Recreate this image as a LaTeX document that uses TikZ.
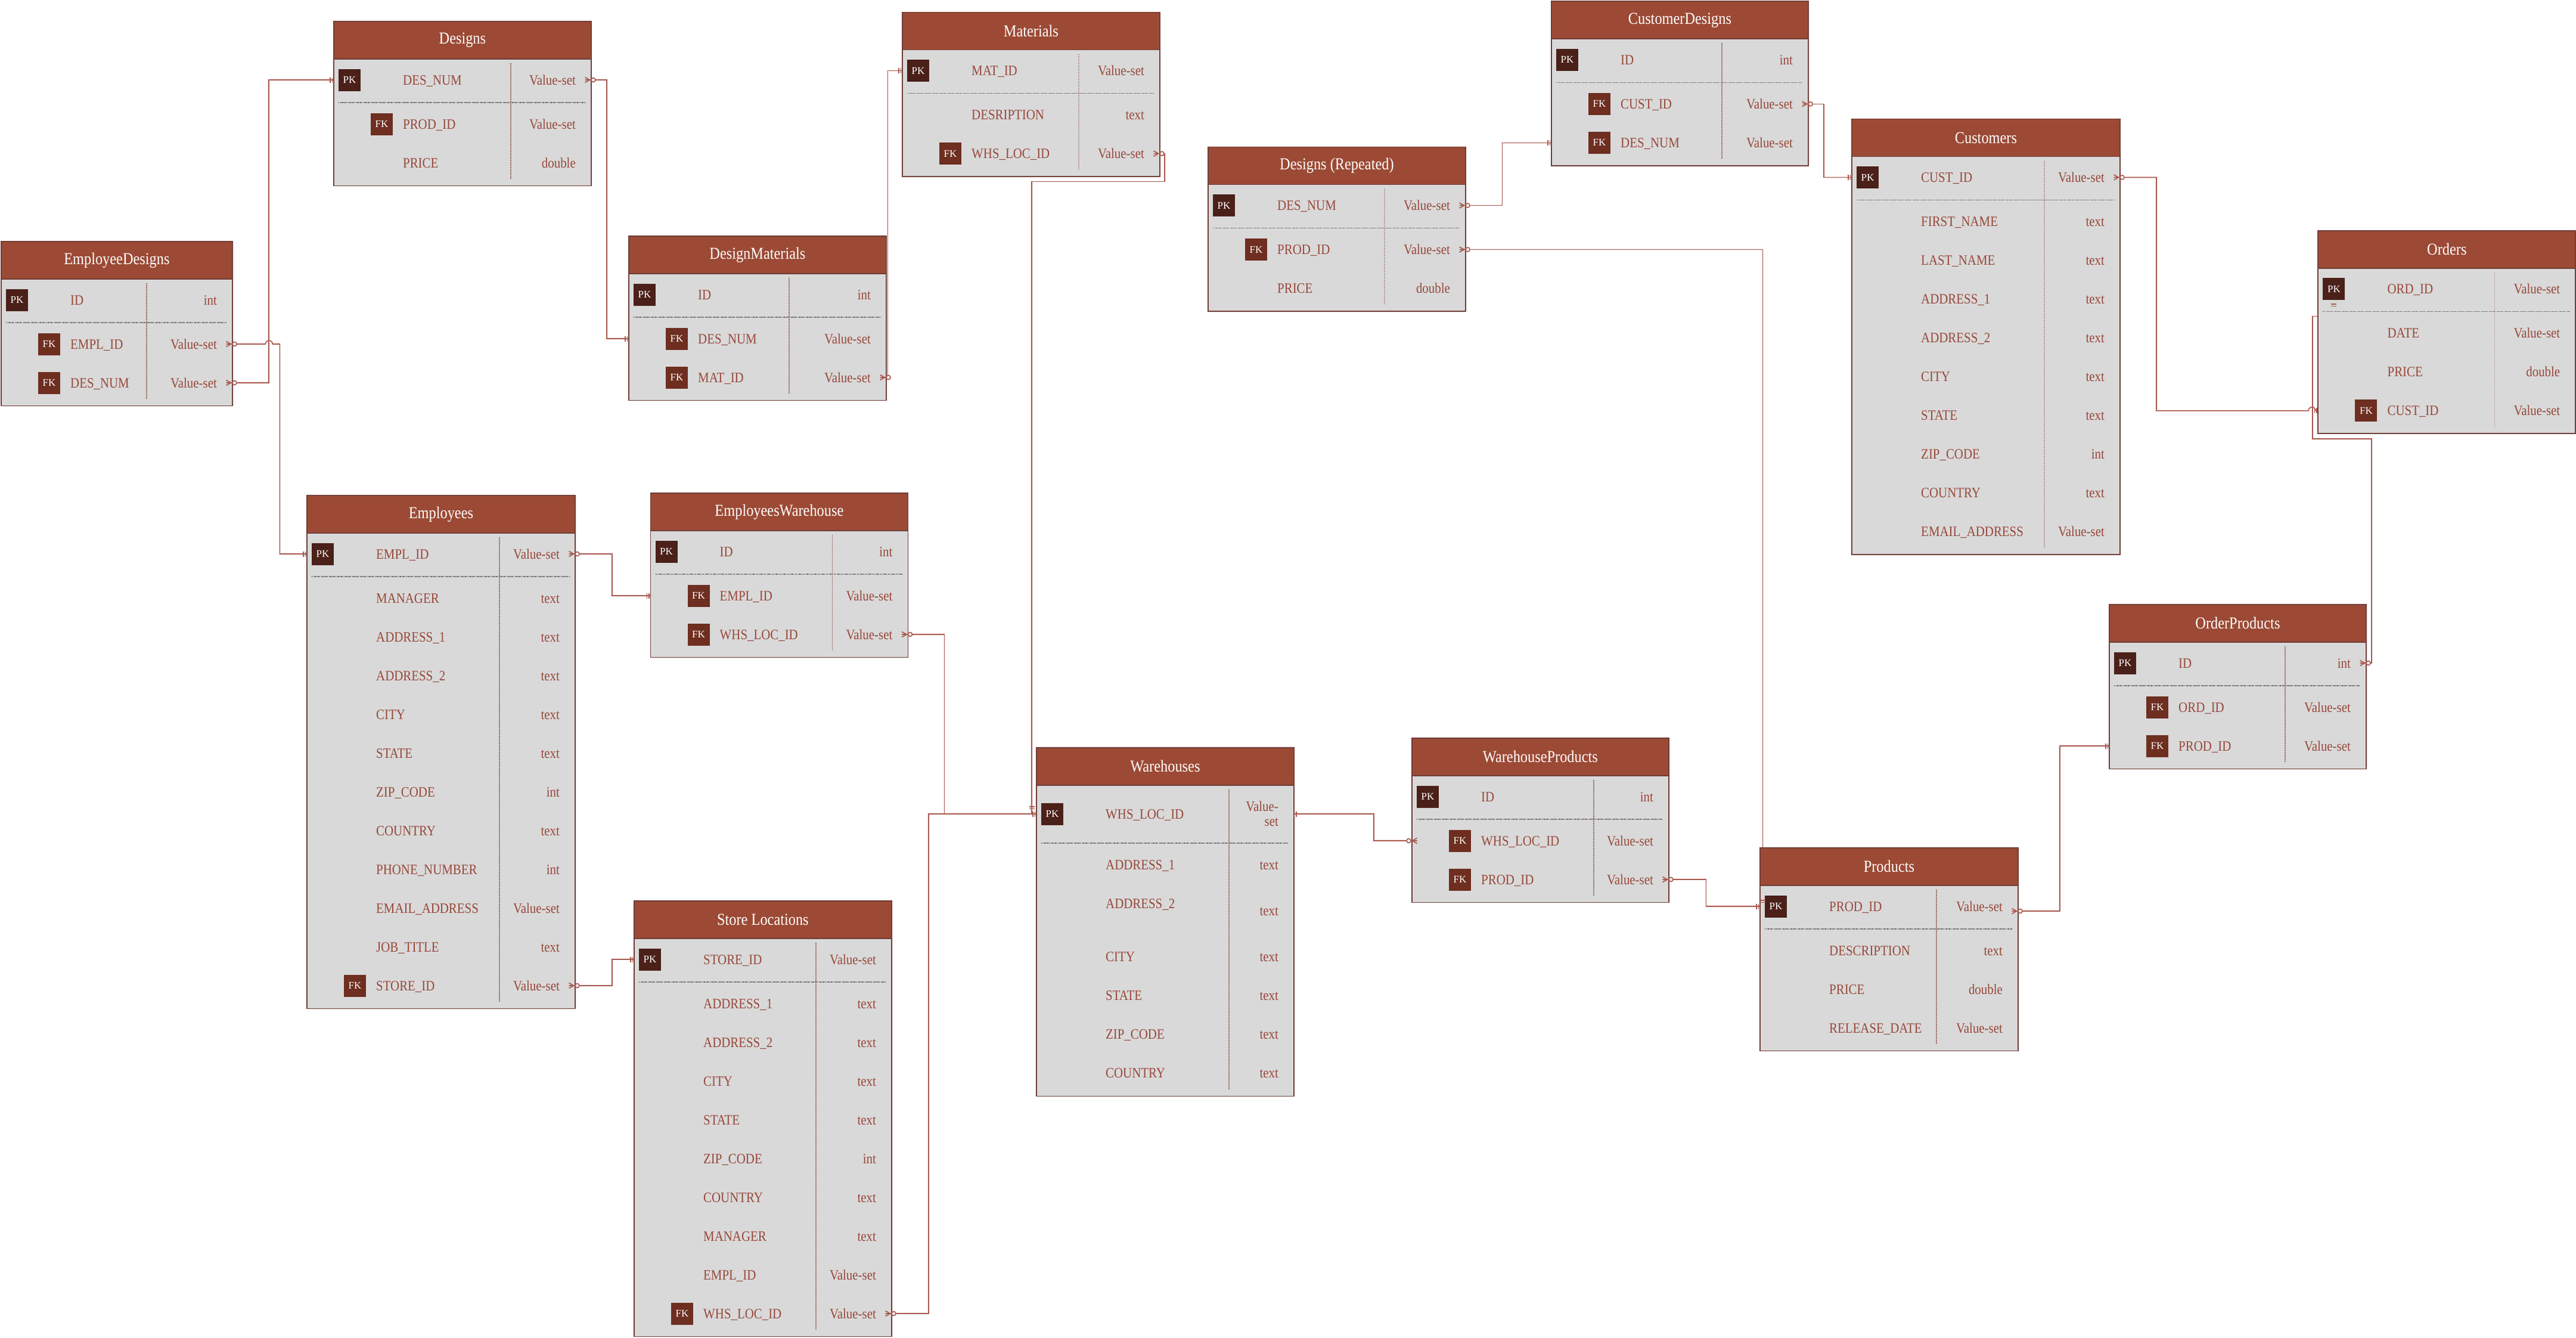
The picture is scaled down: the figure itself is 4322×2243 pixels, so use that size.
\documentclass[tikz,border=0pt]{standalone}
\usepackage{fontspec}
\setmainfont[FakeStretch=0.87]{Liberation Serif}
\newfontfamily\badgefont{Liberation Serif}
\usetikzlibrary{calc}
\pgfdeclarelayer{bg}
\pgfsetlayers{bg,main}
\definecolor{hdr}{RGB}{156,74,53}
\definecolor{bodyc}{RGB}{217,217,217}
\definecolor{bord}{RGB}{112,62,56}
\definecolor{rowtxt}{RGB}{152,72,58}
\definecolor{pkc}{RGB}{74,32,24}
\definecolor{fkc}{RGB}{110,46,32}
\definecolor{cnc}{RGB}{168,88,78}
\definecolor{sepc}{RGB}{85,80,80}
\definecolor{colc}{RGB}{150,105,95}
\def\ertP{P}\def\ertF{F}
\newcommand\errow[9]{%
  \node[rowname, anchor=base west] (#1-n#2) at ({#3+117},{#5+8}) {#8};
  \node[rowname, anchor=base east] (#1-t#2) at ({#3+#4-25},{#6+8}) {#9};
  \coordinate (#1-L#2) at (#3,#5);
  \coordinate (#1-R#2) at ({#3+#4},#5);
  \edef\tmpb{#7}%
  \ifx\tmpb\ertP \node[pkbox] (#1-k#2) at ({#3+27.5},#5) {PK};\fi
  \ifx\tmpb\ertF \node[fkbox] (#1-k#2) at ({#3+81.5},#5) {FK};\fi
}
\newcommand\ertable[7]{%
  \foreach \b/\n/\t [count=\i] in {#7} {\xdef\nrows{\i}}
  \pgfmathsetmacro\lasty{#3+99+(\nrows>1)*(74+(\nrows-2)*65)}
  \pgfmathsetmacro\boty{\lasty+37.5}
  \pgfmathsetmacro\hgt{\boty-#3}
  \node[tblbody, minimum width=#4pt, minimum height=\hgt pt, anchor=north west] (#1) at (#2,#3) {};
  \node[tblhead, minimum width=#4pt, minimum height=63pt, anchor=north west] (#1-h) at (#2,#3) {#6};
  \draw[sepdot] ({#2+9},{#3+137}) -- ({#2+#4-9},{#3+137});
  \draw[coldot] ({#2+#5},{#3+71}) -- ({#2+#5},{\boty-11});
  \foreach \b/\n/\t [count=\i] in {#7} {
    \pgfmathsetmacro\ry{#3+99+(\i>1)*(74+(\i-2)*65)}
    \errow{#1}{\i}{#2}{#4}{\ry}{\ry}{\b}{\n}{\t}
  }
}
\tikzset{
  tblbody/.style={draw=bord, line width=1.8pt, fill=bodyc, inner sep=0pt},
  tblhead/.style={draw=bord, line width=1.8pt, fill=hdr, text=white, inner sep=0pt, font=\fontsize{28}{30}\selectfont},
  rowname/.style={text=rowtxt, inner sep=0pt, font=\fontsize{24}{25}\selectfont},
  pkbox/.style={fill=pkc, text=white, minimum size=37pt, inner sep=0pt, font=\badgefont\fontsize{17}{18}\selectfont},
  fkbox/.style={fill=fkc, text=white, minimum size=37pt, inner sep=0pt, font=\badgefont\fontsize{17}{18}\selectfont},
  sepdot/.style={draw=sepc, line width=1.3pt, dash pattern=on 1.3pt off 1.3pt},
  coldot/.style={draw=colc, line width=1.2pt, dash pattern=on 1.5pt off 1.5pt},
  conn/.style={draw=cnc, line width=1.6pt},
  zmany/.pic={\draw[conn] (-9.5,-4.5) -- (-1.5,0) -- (-9.5,4.5) (-9.5,0) -- (1,0);
              \draw[conn, fill=white] (4.5,0) circle (3.5);},
  oneone/.pic={\draw[conn] (1.5,-4.5) -- (1.5,4.5) (5,-4.5) -- (5,4.5);}
}
\begin{document}
\begin{tikzpicture}[x=1pt, y=-1pt]
\useasboundingbox (0,0) rectangle (4322,2243);
% ---------- tables ----------
\ertable{D}{559}{35}{432}{298}{Designs}{P/DES\_NUM/Value-set,F/PROD\_ID/Value-set,-/PRICE/double}
\ertable{ED}{1}{404}{388}{245}{EmployeeDesigns}{P/ID/int,F/EMPL\_ID/Value-set,F/DES\_NUM/Value-set}
\ertable{M}{1513}{19.6}{432}{297}{Materials}{P/MAT\_ID/Value-set,-/DESRIPTION/text,F/WHS\_LOC\_ID/Value-set}
\ertable{DM}{1054}{395}{432}{270}{DesignMaterials}{P/ID/int,F/DES\_NUM/Value-set,F/MAT\_ID/Value-set}
\ertable{E}{514}{830}{450}{324}{Employees}{P/EMPL\_ID/Value-set,-/MANAGER/text,-/ADDRESS\_1/text,-/ADDRESS\_2/text,-/CITY/text,-/STATE/text,-/ZIP\_CODE/int,-/COUNTRY/text,-/PHONE\_NUMBER/int,-/EMAIL\_ADDRESS/Value-set,-/JOB\_TITLE/text,F/STORE\_ID/Value-set}
\ertable{EW}{1090.5}{826}{432}{306}{EmployeesWarehouse}{P/ID/int,F/EMPL\_ID/Value-set,F/WHS\_LOC\_ID/Value-set}
\ertable{SL}{1063}{1510}{432}{306}{Store Locations}{P/STORE\_ID/Value-set,-/ADDRESS\_1/text,-/ADDRESS\_2/text,-/CITY/text,-/STATE/text,-/ZIP\_CODE/int,-/COUNTRY/text,-/MANAGER/text,-/EMPL\_ID/Value-set,F/WHS\_LOC\_ID/Value-set}
\ertable{DR}{2026}{245.5}{432}{297}{Designs (Repeated)}{P/DES\_NUM/Value-set,F/PROD\_ID/Value-set,-/PRICE/double}
\ertable{CD}{2602}{1.4}{431}{287}{CustomerDesigns}{P/ID/int,F/CUST\_ID/Value-set,F/DES\_NUM/Value-set}
\ertable{C}{3106}{198.5}{450}{324}{Customers}{P/CUST\_ID/Value-set,-/FIRST\_NAME/text,-/LAST\_NAME/text,-/ADDRESS\_1/text,-/ADDRESS\_2/text,-/CITY/text,-/STATE/text,-/ZIP\_CODE/int,-/COUNTRY/text,-/EMAIL\_ADDRESS/Value-set}
\ertable{O}{3888.4}{385.8}{432}{297}{Orders}{P/ORD\_ID/Value-set,-/DATE/Value-set,-/PRICE/double,F/CUST\_ID/Value-set}
\ertable{WP}{2368}{1237}{431}{306}{WarehouseProducts}{P/ID/int,F/WHS\_LOC\_ID/Value-set,F/PROD\_ID/Value-set}
\ertable{P}{2952}{1421}{433}{297}{Products}{P/PROD\_ID/Value-set,-/DESCRIPTION/text,-/PRICE/double,-/RELEASE\_DATE/Value-set}
\ertable{OP}{3538}{1013}{431}{296}{OrderProducts}{P/ID/int,F/ORD\_ID/Value-set,F/PROD\_ID/Value-set}
% Warehouses (irregular rows)
\node[tblbody, minimum width=432pt, minimum height=584.5pt, anchor=north west] (WH) at (1738,1253) {};
\node[tblhead, minimum width=432pt, minimum height=63pt, anchor=north west] (WH-h) at (1738,1253) {Warehouses};
\draw[sepdot] (1747,1414) -- (2161,1414);
\draw[coldot] (2062,1324) -- (2062,1827);
\node[rowname, anchor=base west] (WH-n1) at (1855,1373) {WHS\_LOC\_ID};
\node[rowname, anchor=east, align=right] (WH-t1) at (2145,1365) {Value-\\set};
\node[pkbox] (WH-k1) at (1765.5,1365) {PK};
\coordinate (WH-L1) at (1738,1365);
\coordinate (WH-R1) at (2170,1365);
\errow{WH}{2}{1738}{432}{1450}{1450}{-}{ADDRESS\_1}{text}
\errow{WH}{3}{1738}{432}{1515}{1527}{-}{ADDRESS\_2}{text}
\errow{WH}{4}{1738}{432}{1604}{1604}{-}{CITY}{text}
\errow{WH}{5}{1738}{432}{1669}{1669}{-}{STATE}{text}
\errow{WH}{6}{1738}{432}{1734}{1734}{-}{ZIP\_CODE}{text}
\errow{WH}{7}{1738}{432}{1799}{1799}{-}{COUNTRY}{text}
% ---------- connectors ----------
\begin{pgfonlayer}{bg}
\draw[conn] (D-R1) -- ++(27,0) |- (DM-L2);
\draw[conn] (D-L1) -- ++(-108,0) |- (ED-R3);
\draw[conn] (ED-R2) -- ++(56.3,0) arc[start angle=180, end angle=360, radius=6] -- ++(12,0) |- (E-L1);
\draw[conn] (M-L1) -- ++(-23.4,0) |- (DM-R3);
\draw[conn] (M-R3) -- ++(9,0) -- ++(0,47) -| ($(WH-L1)+(-7,0)$);
\draw[conn] (E-R1) -- ++(63,0) |- (EW-L2);
\draw[conn] (E-R12) -- ++(63,0) |- (SL-L1);
\draw[conn] (EW-R3) -- ++(62,0) |- (WH-L1);
\draw[conn] (SL-R10) -- ++(63,0) |- (WH-L1);
\draw[conn] (WH-R1) -- ++(135,0) |- (WP-L2);
\draw[conn] (WP-R3) -- ++(63.5,0) |- (P-L1);
\draw[conn] (DR-R2) -| ($(P-L1)+(5.5,-5)$);
\draw[conn] (CD-R2) -- ++(27,0) |- (C-L1);
\draw[conn] (DR-R1) -- ++(62.5,0) |- (CD-L3);
\draw[conn] (C-R1) -- ++(62,0) |- ($(O-L4)+(-15.4,0)$) arc[start angle=180, end angle=360, radius=6] -- (O-L4);
\draw[conn] (O-k1.south) -- ++(0,27) -- ++(-36,0) -- ++(0,205.6) -- ++(99,0) |- (OP-R1);
\draw[conn] ($(P-R1)+(0,8)$) -- ++(71,0) |- (OP-L3);
\end{pgfonlayer}
% ---------- end symbols ----------
\pic at (D-R1) {zmany};            \pic[xscale=-1] at (DM-L2) {oneone};
\pic[xscale=-1] at (D-L1) {oneone}; \pic at (ED-R3) {zmany};
\pic at (ED-R2) {zmany};           \pic[xscale=-1] at (E-L1) {oneone};
\pic[xscale=-1] at (M-L1) {oneone}; \pic at (DM-R3) {zmany};
\pic at (M-R3) {zmany};            \pic[rotate=90] at ($(WH-L1)+(-7,-7)$) {oneone};
\pic at (E-R1) {zmany};            \pic[xscale=-1] at (EW-L2) {oneone};
\pic at (E-R12) {zmany};           \pic[xscale=-1] at (SL-L1) {oneone};
\pic at (EW-R3) {zmany};           \pic[xscale=-1] at (WH-L1) {oneone};
\pic at (SL-R10) {zmany};
\pic at (WH-R1) {oneone};          \pic[xscale=-1] at (WP-L2) {zmany};
\pic at (WP-R3) {zmany};           \pic[xscale=-1] at (P-L1) {oneone};
\pic at (DR-R2) {zmany};           \pic[rotate=90] at ($(P-L1)+(5.5,-5)$) {oneone};
\pic at (CD-R2) {zmany};           \pic[xscale=-1] at (C-L1) {oneone};
\pic at (DR-R1) {zmany};           \pic[xscale=-1] at (CD-L3) {oneone};
\pic at (C-R1) {zmany};            \pic[xscale=-1] at (O-L4) {oneone};
\pic[rotate=-90] at ($(O-k1.south)+(0,5)$) {oneone}; \pic at (OP-R1) {zmany};
\pic at ($(P-R1)+(0,8)$) {zmany};  \pic[xscale=-1] at (OP-L3) {oneone};
\end{tikzpicture}
\end{document}
